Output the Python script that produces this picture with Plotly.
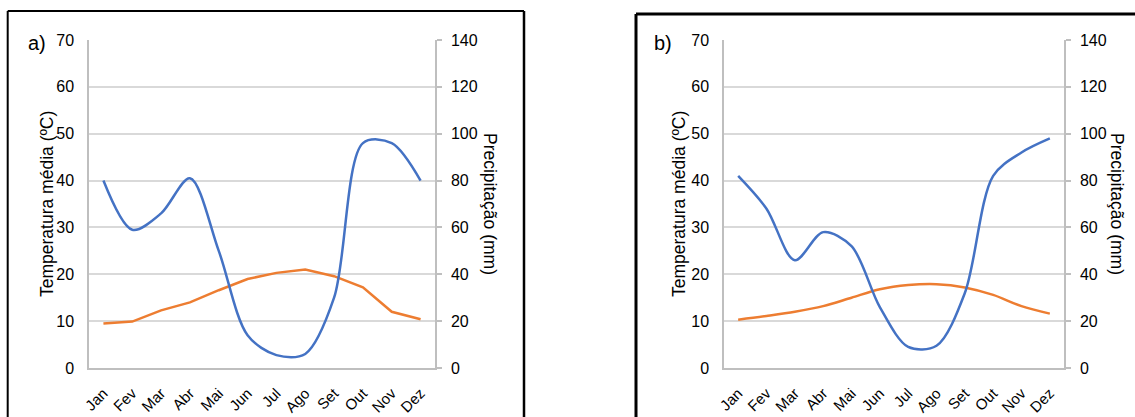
import plotly.graph_objects as go

# Monthly climate data for two sites
months = ["Jan", "Fev", "Mar", "Abr", "Mai", "Jun", "Jul", "Ago", "Set", "Out", "Nov", "Dez"]

temp_a = [9.5, 9.9, 12.3, 14.0, 16.6, 19.0, 20.3, 21.0, 19.6, 17.2, 12.0, 10.4]
prec_a = [80, 59, 66, 81, 50, 14, 5.5, 6, 30, 96, 96, 80]

temp_b = [10.3, 11.1, 12.0, 13.2, 15.0, 16.8, 17.7, 17.9, 17.2, 15.6, 13.2, 11.6]
prec_b = [82, 68, 46, 58, 52, 26, 9, 9.5, 32, 82, 92, 98]

temp_ticks = [0, 10, 20, 30, 40, 50, 60, 70]
prec_ticks = [0, 20, 40, 60, 80, 100, 120, 140]

W, H = 1135, 417
BLUE = "#4472C4"
ORANGE = "#ED7D31"
GRID = "#d9d9d9"
AXIS = "#bfbfbf"
FONT = "Liberation Sans, Arial, sans-serif"


def px(x):
    return x / W


def py(y):
    return 1 - y / H


fig = go.Figure()

# Panel a
fig.add_trace(go.Scatter(x=months, y=temp_a, xaxis="x", yaxis="y", mode="lines",
                         line=dict(color=ORANGE, width=2.5), name="Temperatura"))
fig.add_trace(go.Scatter(x=months, y=prec_a, xaxis="x", yaxis="y2", mode="lines",
                         line=dict(color=BLUE, width=2.5, shape="spline", smoothing=0.9),
                         name="Precipitação"))
# Panel b
fig.add_trace(go.Scatter(x=months, y=temp_b, xaxis="x2", yaxis="y3", mode="lines",
                         line=dict(color=ORANGE, width=2.5, shape="spline", smoothing=0.9),
                         name="Temperatura"))
fig.add_trace(go.Scatter(x=months, y=prec_b, xaxis="x2", yaxis="y4", mode="lines",
                         line=dict(color=BLUE, width=2.5, shape="spline", smoothing=0.9),
                         name="Precipitação"))

ydom = [py(368), py(40)]
xdom_a = [px(89), px(435)]
xdom_b = [px(724), px(1064)]

tickfont = dict(family=FONT, size=16, color="#000000")
xtickfont = dict(family=FONT, size=15, color="#000000")


def xaxis(dom, anchor):
    return dict(domain=dom, anchor=anchor, type="category", range=[-0.5, 11.5],
                showgrid=False, showline=True, linecolor=AXIS, linewidth=1.5,
                ticks="", tickangle=-45, tickfont=xtickfont, ticklabelstandoff=9,
                automargin=False)


def ytemp(anchor):
    return dict(domain=ydom, anchor=anchor, range=[0, 70], tickvals=temp_ticks,
                showgrid=True, gridcolor=GRID, gridwidth=1.5, zeroline=False,
                showline=True, linecolor=AXIS, linewidth=1.5, ticks="",
                tickfont=tickfont, ticklabelstandoff=10, automargin=False)


def yprec(overlay, anchor):
    return dict(overlaying=overlay, anchor=anchor, side="right", range=[0, 140],
                tickvals=prec_ticks, showgrid=False, zeroline=False,
                showline=True, linecolor=AXIS, linewidth=1.5,
                ticks="outside", ticklen=5, tickcolor=AXIS, tickwidth=1.5,
                tickfont=tickfont, ticklabelstandoff=6, automargin=False)


annotations = []
for cx_left, cx_right, label, lx in [(47, 490, "a)", 37), (679, 1117, "b)", 663)]:
    annotations.append(dict(text="Temperatura média (ºC)", x=px(cx_left), y=py(204),
                            xref="paper", yref="paper", showarrow=False, textangle=-90,
                            font=dict(family=FONT, size=17.5, color="#000000"),
                            xanchor="center", yanchor="middle"))
    annotations.append(dict(text="Precipitação (mm)", x=px(cx_right), y=py(204),
                            xref="paper", yref="paper", showarrow=False, textangle=90,
                            font=dict(family=FONT, size=17.5, color="#000000"),
                            xanchor="center", yanchor="middle"))
    annotations.append(dict(text=label, x=px(lx), y=py(43), xref="paper", yref="paper",
                            showarrow=False, font=dict(family=FONT, size=20, color="#000000"),
                            xanchor="center", yanchor="middle"))

shapes = [
    # frame around panel a
    dict(type="line", xref="paper", yref="paper", x0=px(7.7), x1=px(7.7), y0=py(11), y1=py(430),
         line=dict(color="#000000", width=2)),
    dict(type="line", xref="paper", yref="paper", x0=px(7.7), x1=px(524), y0=py(11), y1=py(11),
         line=dict(color="#000000", width=2)),
    dict(type="line", xref="paper", yref="paper", x0=px(524), x1=px(524), y0=py(11), y1=py(430),
         line=dict(color="#000000", width=2.5)),
    # frame around panel b
    dict(type="line", xref="paper", yref="paper", x0=px(636), x1=px(636), y0=py(14), y1=py(430),
         line=dict(color="#000000", width=3)),
    dict(type="line", xref="paper", yref="paper", x0=px(636), x1=px(1150), y0=py(14), y1=py(14),
         line=dict(color="#000000", width=3)),
]

fig.update_layout(
    width=W, height=H,
    margin=dict(l=0, r=0, t=0, b=0, pad=0, autoexpand=False),
    paper_bgcolor="#ffffff", plot_bgcolor="#ffffff",
    showlegend=False,
    xaxis=xaxis(xdom_a, "y"),
    yaxis=ytemp("x"),
    yaxis2=yprec("y", "x"),
    xaxis2=xaxis(xdom_b, "y3"),
    yaxis3=ytemp("x2"),
    yaxis4=yprec("y3", "x2"),
    annotations=annotations,
    shapes=shapes,
)

fig.write_html("out.html")
